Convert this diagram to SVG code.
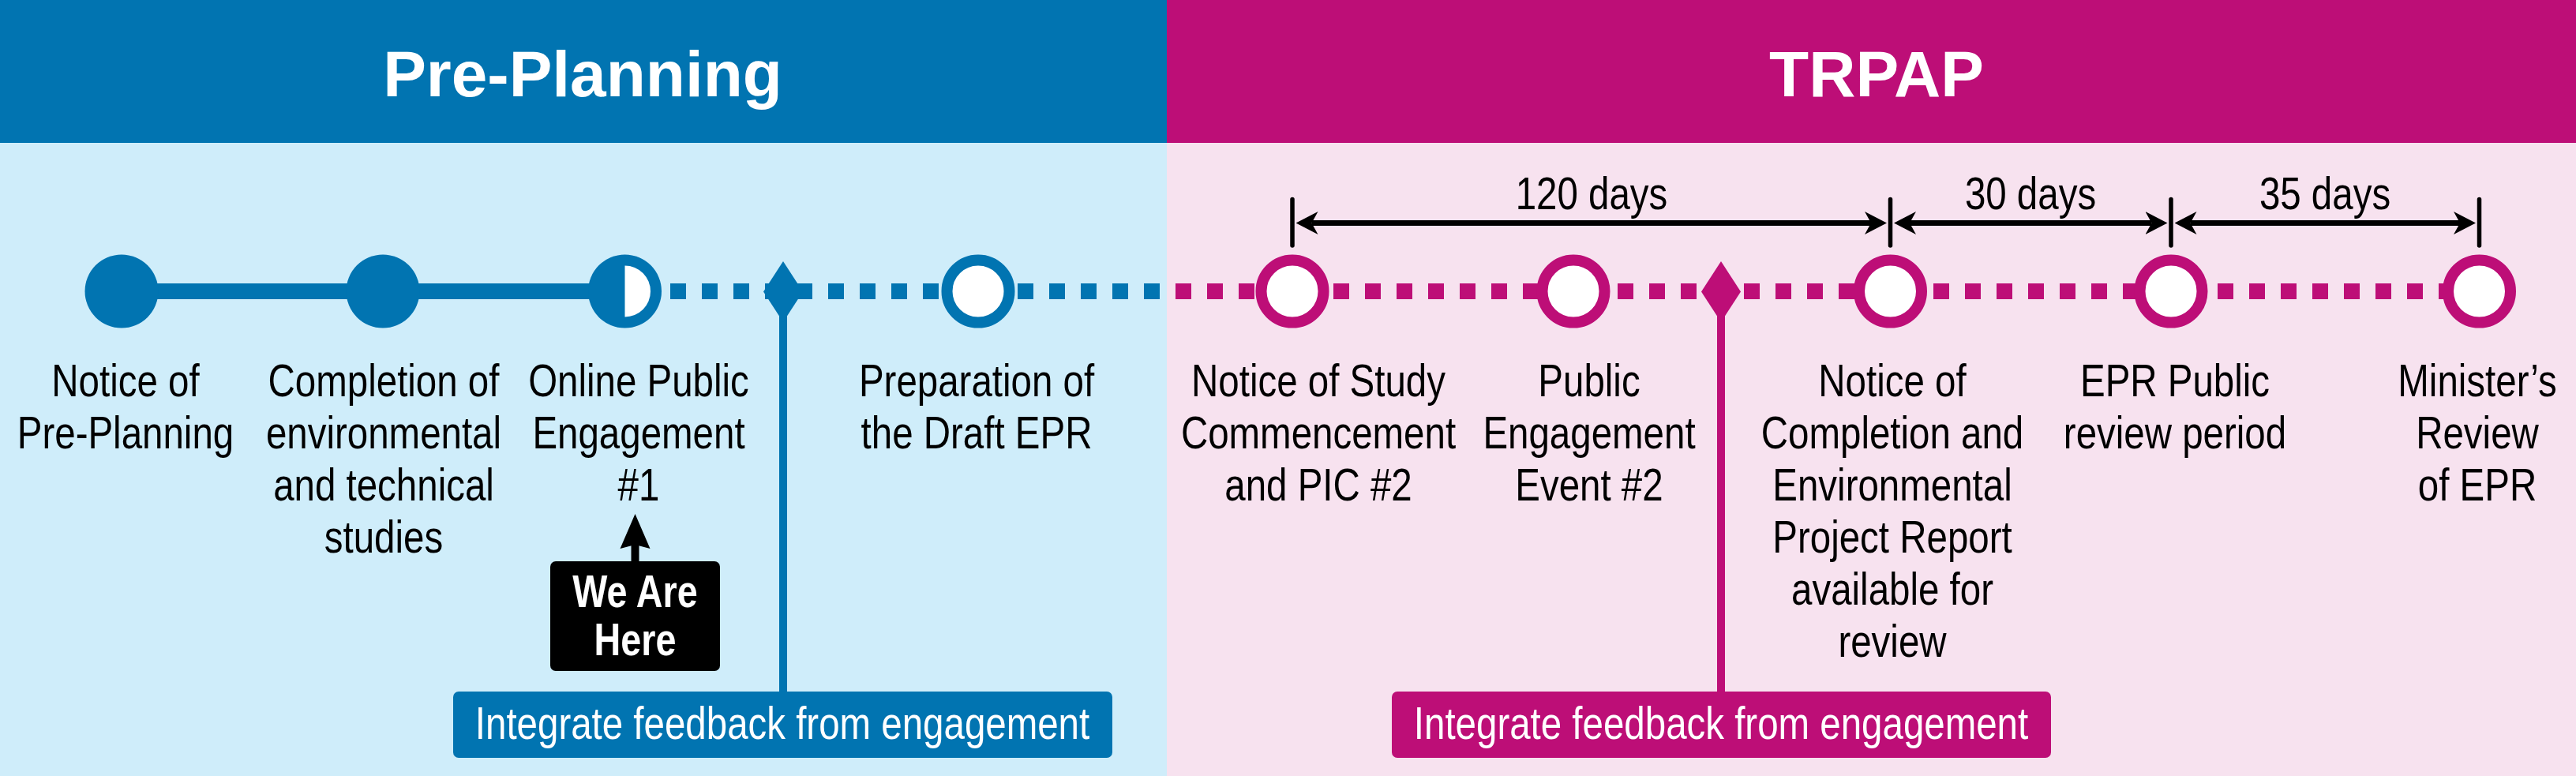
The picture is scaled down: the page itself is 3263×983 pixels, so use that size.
<svg xmlns="http://www.w3.org/2000/svg" width="3263" height="983" viewBox="0 0 3263 983">
<style>
.lbl{font-family:'Liberation Sans',Arial,sans-serif;font-size:57px;fill:#000;text-anchor:middle}
.wlbl{font-family:'Liberation Sans',Arial,sans-serif;font-size:57px;fill:#fff;text-anchor:middle}
.wb{font-family:'Liberation Sans',Arial,sans-serif;font-size:57px;font-weight:bold;fill:#fff;text-anchor:middle}
.hdr{font-family:'Liberation Sans',Arial,sans-serif;font-size:82px;font-weight:bold;fill:#fff;text-anchor:middle}
.ringB{fill:#fff;stroke:#0174B1;stroke-width:14}
.ringM{fill:#fff;stroke:#BD0E77;stroke-width:14}
.dur{stroke:#000;stroke-width:7;fill:none;marker-start:url(#ah);marker-end:url(#ah)}
.tick{stroke:#000;stroke-width:5.5;stroke-linecap:round}
</style>
<defs>
<marker id="ah" viewBox="0 0 28 29" refX="8" refY="14.5" markerWidth="28" markerHeight="29" markerUnits="userSpaceOnUse" orient="auto-start-reverse">
<path d="M28,14.5 L0,0 L8,14.5 L0,29 Z" fill="#000"/>
</marker>
</defs>

<!-- backgrounds -->
<rect x="0" y="0" width="1478" height="181" fill="#0174B1"/>
<rect x="1478" y="0" width="1785" height="181" fill="#BD0E77"/>
<rect x="0" y="181" width="1478" height="802" fill="#CFEDFA"/>
<rect x="1478" y="181" width="1785" height="802" fill="#F7E2EF"/>
<text class="hdr" x="738" y="122">Pre-Planning</text>
<text class="hdr" x="2377" y="122">TRPAP</text>

<!-- connectors -->
<g id="connectors">
<line x1="154" y1="369" x2="791" y2="369" stroke="#0174B1" stroke-width="20"/>
<line x1="849" y1="369" x2="1469" y2="369" stroke="#0174B1" stroke-width="20" stroke-dasharray="20 20"/>
<line x1="1489" y1="369" x2="3108" y2="369" stroke="#BD0E77" stroke-width="20" stroke-dasharray="20 20"/>
</g>

<!-- feedback integration -->
<g id="feedback1">
<line x1="992" y1="369" x2="992" y2="877" stroke="#0174B1" stroke-width="10"/>
<path d="M992,331 L1017,369.5 L992,408 L967,369.5 Z" fill="#0174B1"/>
<rect x="574" y="876" width="835" height="84" rx="7" fill="#0174B1"/>
<g transform="translate(991,0) scale(0.833,1)"><text class="wlbl" x="0" y="936">Integrate feedback from engagement</text></g>
</g>
<g id="feedback2">
<line x1="2180" y1="369" x2="2180" y2="877" stroke="#BD0E77" stroke-width="10"/>
<path d="M2180,331 L2205,369.5 L2180,408 L2155,369.5 Z" fill="#BD0E77"/>
<rect x="1763" y="876" width="835" height="84" rx="7" fill="#BD0E77"/>
<g transform="translate(2180,0) scale(0.833,1)"><text class="wlbl" x="0" y="936">Integrate feedback from engagement</text></g>
</g>

<!-- durations -->
<g id="durations">
<line class="tick" x1="1637" y1="252.5" x2="1637" y2="311"/>
<line class="tick" x1="2394.5" y1="252.5" x2="2394.5" y2="311"/>
<line class="tick" x1="2750" y1="252.5" x2="2750" y2="311"/>
<line class="tick" x1="3140.5" y1="252.5" x2="3140.5" y2="311"/>
<line class="dur" x1="1661.5" y1="282.5" x2="2370" y2="282.5"/>
<line class="dur" x1="2419" y1="282.5" x2="2725.5" y2="282.5"/>
<line class="dur" x1="2774.5" y1="282.5" x2="3116" y2="282.5"/>
<g transform="translate(2016,0) scale(0.833,1)"><text class="lbl" x="0" y="265">120 days</text></g>
<g transform="translate(2572,0) scale(0.833,1)"><text class="lbl" x="0" y="265">30 days</text></g>
<g transform="translate(2945,0) scale(0.833,1)"><text class="lbl" x="0" y="265">35 days</text></g>
</g>

<!-- nodes -->
<g id="n1">
<circle cx="154" cy="369" r="46.5" fill="#0174B1"/>
<g transform="translate(159,0) scale(0.833,1)"><text class="lbl"><tspan x="0" y="502">Notice of</tspan><tspan x="0" y="568">Pre-Planning</tspan></text></g>
</g>
<g id="n2">
<circle cx="485" cy="369" r="46.5" fill="#0174B1"/>
<g transform="translate(486,0) scale(0.833,1)"><text class="lbl"><tspan x="0" y="502">Completion of</tspan><tspan x="0" y="568">environmental</tspan><tspan x="0" y="634">and technical</tspan><tspan x="0" y="700">studies</tspan></text></g>
</g>
<g id="n3">
<circle cx="791.5" cy="369" r="46.5" fill="#0174B1"/>
<path d="M791.5,336.5 A32.5,32.5 0 0 1 791.5,401.5 Z" fill="#fff"/>
<g transform="translate(809,0) scale(0.833,1)"><text class="lbl"><tspan x="0" y="502">Online Public</tspan><tspan x="0" y="568">Engagement</tspan><tspan x="0" y="634">#1</tspan></text></g>
</g>
<g id="here">
<line x1="804.5" y1="711" x2="804.5" y2="688" stroke="#000" stroke-width="10"/>
<path d="M804.5,651 L823.5,695 L804.5,690 L785.5,695 Z" fill="#000"/>
<rect x="697" y="711" width="215" height="139" rx="7" fill="#000"/>
<g transform="translate(804.5,0) scale(0.82,1)"><text class="wb"><tspan x="0" y="769">We Are</tspan><tspan x="0" y="830">Here</tspan></text></g>
</g>
<g id="n4">
<circle class="ringB" cx="1239" cy="369" r="39.5"/>
<g transform="translate(1237,0) scale(0.833,1)"><text class="lbl"><tspan x="0" y="502">Preparation of</tspan><tspan x="0" y="568">the Draft EPR</tspan></text></g>
</g>
<g id="n5">
<circle class="ringM" cx="1637" cy="369" r="39.5"/>
<g transform="translate(1670,0) scale(0.833,1)"><text class="lbl"><tspan x="0" y="502">Notice of Study</tspan><tspan x="0" y="568">Commencement</tspan><tspan x="0" y="634">and PIC #2</tspan></text></g>
</g>
<g id="n6">
<circle class="ringM" cx="1993" cy="369" r="39.5"/>
<g transform="translate(2013,0) scale(0.833,1)"><text class="lbl"><tspan x="0" y="502">Public</tspan><tspan x="0" y="568">Engagement</tspan><tspan x="0" y="634">Event #2</tspan></text></g>
</g>
<g id="n7">
<circle class="ringM" cx="2394.5" cy="369" r="39.5"/>
<g transform="translate(2397,0) scale(0.833,1)"><text class="lbl"><tspan x="0" y="502">Notice of</tspan><tspan x="0" y="568">Completion and</tspan><tspan x="0" y="634">Environmental</tspan><tspan x="0" y="700">Project Report</tspan><tspan x="0" y="766">available for</tspan><tspan x="0" y="832">review</tspan></text></g>
</g>
<g id="n8">
<circle class="ringM" cx="2750" cy="369" r="39.5"/>
<g transform="translate(2755,0) scale(0.833,1)"><text class="lbl"><tspan x="0" y="502">EPR Public</tspan><tspan x="0" y="568">review period</tspan></text></g>
</g>
<g id="n9">
<circle class="ringM" cx="3140.5" cy="369" r="39.5"/>
<g transform="translate(3138,0) scale(0.833,1)"><text class="lbl"><tspan x="0" y="502">Minister’s</tspan><tspan x="0" y="568">Review</tspan><tspan x="0" y="634">of EPR</tspan></text></g>
</g>
</svg>
